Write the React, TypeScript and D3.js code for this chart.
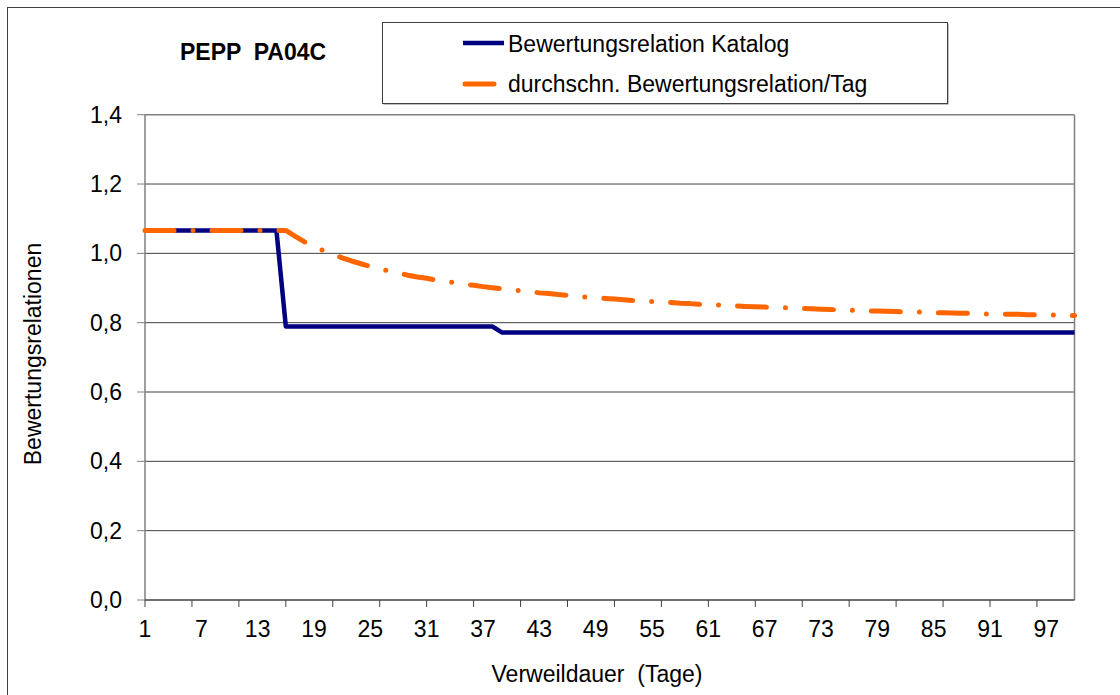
import React from "react";
import * as d3 from "d3";

const days: number[] = d3.range(1, 101);

const catalog: number[] = [
  1.066, 1.066, 1.066, 1.066, 1.066, 1.066, 1.066, 1.066, 1.066, 1.066,
  1.066, 1.066, 1.066, 1.066, 1.066, 0.789, 0.789, 0.789, 0.789, 0.789,
  0.789, 0.789, 0.789, 0.789, 0.789, 0.789, 0.789, 0.789, 0.789, 0.789,
  0.789, 0.789, 0.789, 0.789, 0.789, 0.789, 0.789, 0.789, 0.772, 0.772,
  0.772, 0.772, 0.772, 0.772, 0.772, 0.772, 0.772, 0.772, 0.772, 0.772,
  0.772, 0.772, 0.772, 0.772, 0.772, 0.772, 0.772, 0.772, 0.772, 0.772,
  0.772, 0.772, 0.772, 0.772, 0.772, 0.772, 0.772, 0.772, 0.772, 0.772,
  0.772, 0.772, 0.772, 0.772, 0.772, 0.772, 0.772, 0.772, 0.772, 0.772,
  0.772, 0.772, 0.772, 0.772, 0.772, 0.772, 0.772, 0.772, 0.772, 0.772,
  0.772, 0.772, 0.772, 0.772, 0.772, 0.772, 0.772, 0.772, 0.772, 0.772,
];

const average: number[] = [
  1.066, 1.066, 1.066, 1.066, 1.066, 1.066, 1.066, 1.066, 1.066, 1.066,
  1.066, 1.066, 1.066, 1.066, 1.066, 1.066, 1.049, 1.033, 1.020, 1.008,
  0.997, 0.987, 0.978, 0.970, 0.962, 0.955, 0.949, 0.943, 0.937, 0.932,
  0.928, 0.923, 0.919, 0.915, 0.911, 0.908, 0.904, 0.901, 0.898, 0.895,
  0.892, 0.889, 0.886, 0.884, 0.881, 0.879, 0.876, 0.874, 0.872, 0.870,
  0.868, 0.866, 0.864, 0.863, 0.861, 0.859, 0.858, 0.856, 0.855, 0.853,
  0.852, 0.851, 0.849, 0.848, 0.847, 0.846, 0.845, 0.844, 0.843, 0.842,
  0.841, 0.840, 0.839, 0.838, 0.837, 0.836, 0.835, 0.834, 0.834, 0.833,
  0.832, 0.831, 0.831, 0.830, 0.829, 0.829, 0.828, 0.827, 0.827, 0.826,
  0.825, 0.825, 0.824, 0.824, 0.823, 0.823, 0.822, 0.822, 0.821, 0.821,
];

const yTicks: number[] = [0, 0.2, 0.4, 0.6, 0.8, 1.0, 1.2, 1.4];
const xLabelDays: number[] = [1, 7, 13, 19, 25, 31, 37, 43, 49, 55, 61, 67, 73, 79, 85, 91, 97];
const xTickDays: number[] = [1, 6, 11, 16, 21, 26, 31, 36, 41, 46, 51, 56, 61, 66, 71, 76, 81, 86, 91, 96];

const title = "PEPP  PA04C";
const seriesNames = ["Bewertungsrelation Katalog", "durchschn. Bewertungsrelation/Tag"];
const xTitle = "Verweildauer  (Tage)";
const yTitle = "Bewertungsrelationen";

const FONT = "'Liberation Sans', Arial, sans-serif";
const BLUE = "#000080";
const ORANGE = "#ff6600";

export default function App() {
  const left = 145;
  const right = 1074.5;
  const top = 114.7;
  const bottom = 600;

  const x = d3.scalePoint<number>().domain(days).range([left, right]).padding(0);
  const y = d3.scaleLinear().domain([0, 1.4]).range([bottom, top]);

  const line = d3
    .line<number>()
    .x((_, i) => x(days[i]) as number)
    .y((v) => y(v));

  const fmt = (v: number) => v.toFixed(1).replace(".", ",");

  return (
    <svg
      width={1120}
      height={695}
      style={{ position: "absolute", left: 0, top: 0, background: "#fff" }}
      fontFamily={FONT}
    >
      <rect x={0} y={0} width={1120} height={695} fill="#fff" />
      {/* outer chart border */}
      <rect x={7.5} y={7.5} width={1300} height={900} fill="none" stroke="#404040" strokeWidth={1} />

      {/* gridlines */}
      {yTicks
        .filter((t) => t > 0 && t < 1.4)
        .map((t) => (
          <line key={"g" + t} x1={left} x2={right} y1={y(t)} y2={y(t)} stroke="#404040" strokeWidth={1} />
        ))}

      {/* plot area border top/right */}
      <line x1={left} x2={right} y1={top} y2={top} stroke="#808080" strokeWidth={1.5} />
      <line x1={right} x2={right} y1={top} y2={bottom} stroke="#808080" strokeWidth={1.5} />

      {/* y axis */}
      <line x1={left} x2={left} y1={top} y2={bottom} stroke="#808080" strokeWidth={1.5} />
      {yTicks.map((t) => (
        <g key={"y" + t}>
          <line x1={left - 8} x2={left} y1={y(t)} y2={y(t)} stroke="#808080" strokeWidth={1} />
          <text x={122} y={y(t) + 8} fontSize={23} textAnchor="end" fill="#000">
            {fmt(t)}
          </text>
        </g>
      ))}

      {/* x axis */}
      <line x1={left} x2={right} y1={bottom} y2={bottom} stroke="#404040" strokeWidth={1.5} />
      {xTickDays.map((d) => (
        <line key={"xt" + d} x1={x(d)} x2={x(d)} y1={bottom} y2={bottom + 7} stroke="#404040" strokeWidth={1} />
      ))}
      {xLabelDays.map((d) => (
        <text key={"xl" + d} x={x(d)} y={637} fontSize={23} textAnchor="middle" fill="#000">
          {d}
        </text>
      ))}

      {/* series */}
      <path d={line(catalog) || ""} fill="none" stroke={BLUE} strokeWidth={4.5} strokeLinejoin="round" />
      <path
        d={line(average) || ""}
        fill="none"
        stroke={ORANGE}
        strokeWidth={5}
        strokeLinecap="round"
        strokeLinejoin="round"
        strokeDasharray="29 19 0 19"
      />

      {/* titles */}
      <text x={180} y={60} fontSize={23} fontWeight="bold" fill="#000" style={{ whiteSpace: "pre" }}>
        {title}
      </text>
      <text x={597} y={682} fontSize={23} textAnchor="middle" fill="#000" style={{ whiteSpace: "pre" }}>
        {xTitle}
      </text>
      <text
        transform="translate(41,354) rotate(-90)"
        fontSize={23}
        textAnchor="middle"
        fill="#000"
      >
        {yTitle}
      </text>

      {/* legend */}
      <rect x={383.5} y={23.5} width={565} height={81} fill="#808080" />
      <rect x={382.5} y={22.5} width={565} height={81} fill="#fff" stroke="#404040" strokeWidth={1} />
      <line x1={463} x2={504} y1={43} y2={43} stroke={BLUE} strokeWidth={4.5} />
      <text x={508} y={51.5} fontSize={23} fill="#000">
        {seriesNames[0]}
      </text>
      <line x1={465} x2={494} y1={84} y2={84} stroke={ORANGE} strokeWidth={5} strokeLinecap="round" />
      <text x={508} y={92} fontSize={23} fill="#000">
        {seriesNames[1]}
      </text>
    </svg>
  );
}
